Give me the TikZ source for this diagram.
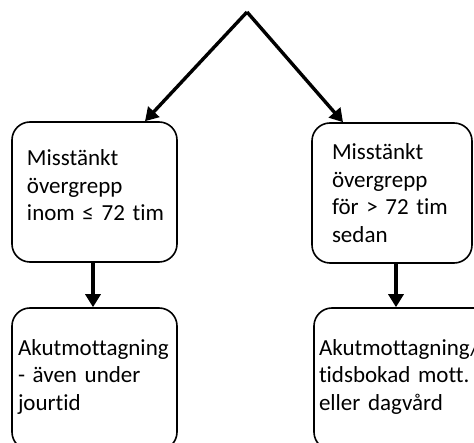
\documentclass[tikz,border=0pt]{standalone}
\usepackage{fontspec}
\setmainfont{Carlito}[Ligatures=NoCommon]
\usetikzlibrary{arrows.meta}
\newlength{\lw}
\setlength{\lw}{1.6pt}
\tikzstyle{every picture}+=[>={Triangle[length=13pt,width=15pt]}]
\tikzstyle{every picture}+=[x=1pt,y=-1pt]
\tikzstyle{every picture}+=[join=round]
\tikzstyle{every picture}+=[line width=\lw]
\tikzstyle{every picture}+=[box/.style={draw,rounded corners=18pt,align=left,inner ysep=0pt,font=\fontsize{23}{27.5}\selectfont}]
\tikzstyle{every picture}+=[flow/.style={->,line width=3.4pt}]

\begin{document}
\begin{tikzpicture}
\useasboundingbox (0,0) rectangle (474,443);
\clip (0,0) rectangle (474,443);

\coordinate (start) at (247,12);

\node[box,inner xsep=15pt,text width=135pt,minimum height=140pt] (inom) at (94.5,192)
  {Misstänkt\\övergrepp\\\mbox{inom ≤ 72 tim}\\[-14pt]\mbox{}};
\node[box,inner xsep=20pt,text width=120pt,minimum height=140pt] (efter) at (392,193)
  {Misstänkt\\övergrepp\\för > 72 tim\\sedan};

% lower boxes run past the bottom edge
\node[box,inner xsep=6pt,text width=153pt,minimum height=142pt] (akut) at (94.5,379)
  {\mbox{}\\[-16pt]\mbox{Akutmottagning}\\- även under\\jourtid};
\node[box,inner xsep=5pt,text width=170pt,minimum height=142pt] (bokad) at (404,379)
  {\mbox{}\\[-16pt]Akutmottagning/\\tidsbokad mott.\\eller dagvård};

\draw[flow] (start) -- (inom.north -| 145,0);
\draw[flow] (start) -- (efter.north -| 343,0);
\draw[flow] (inom.south -| 93,0) -- (akut.north -| 93,0);
\draw[flow] (efter.south -| 396,0) -- (bokad.north -| 396,0);
\end{tikzpicture}
\end{document}
